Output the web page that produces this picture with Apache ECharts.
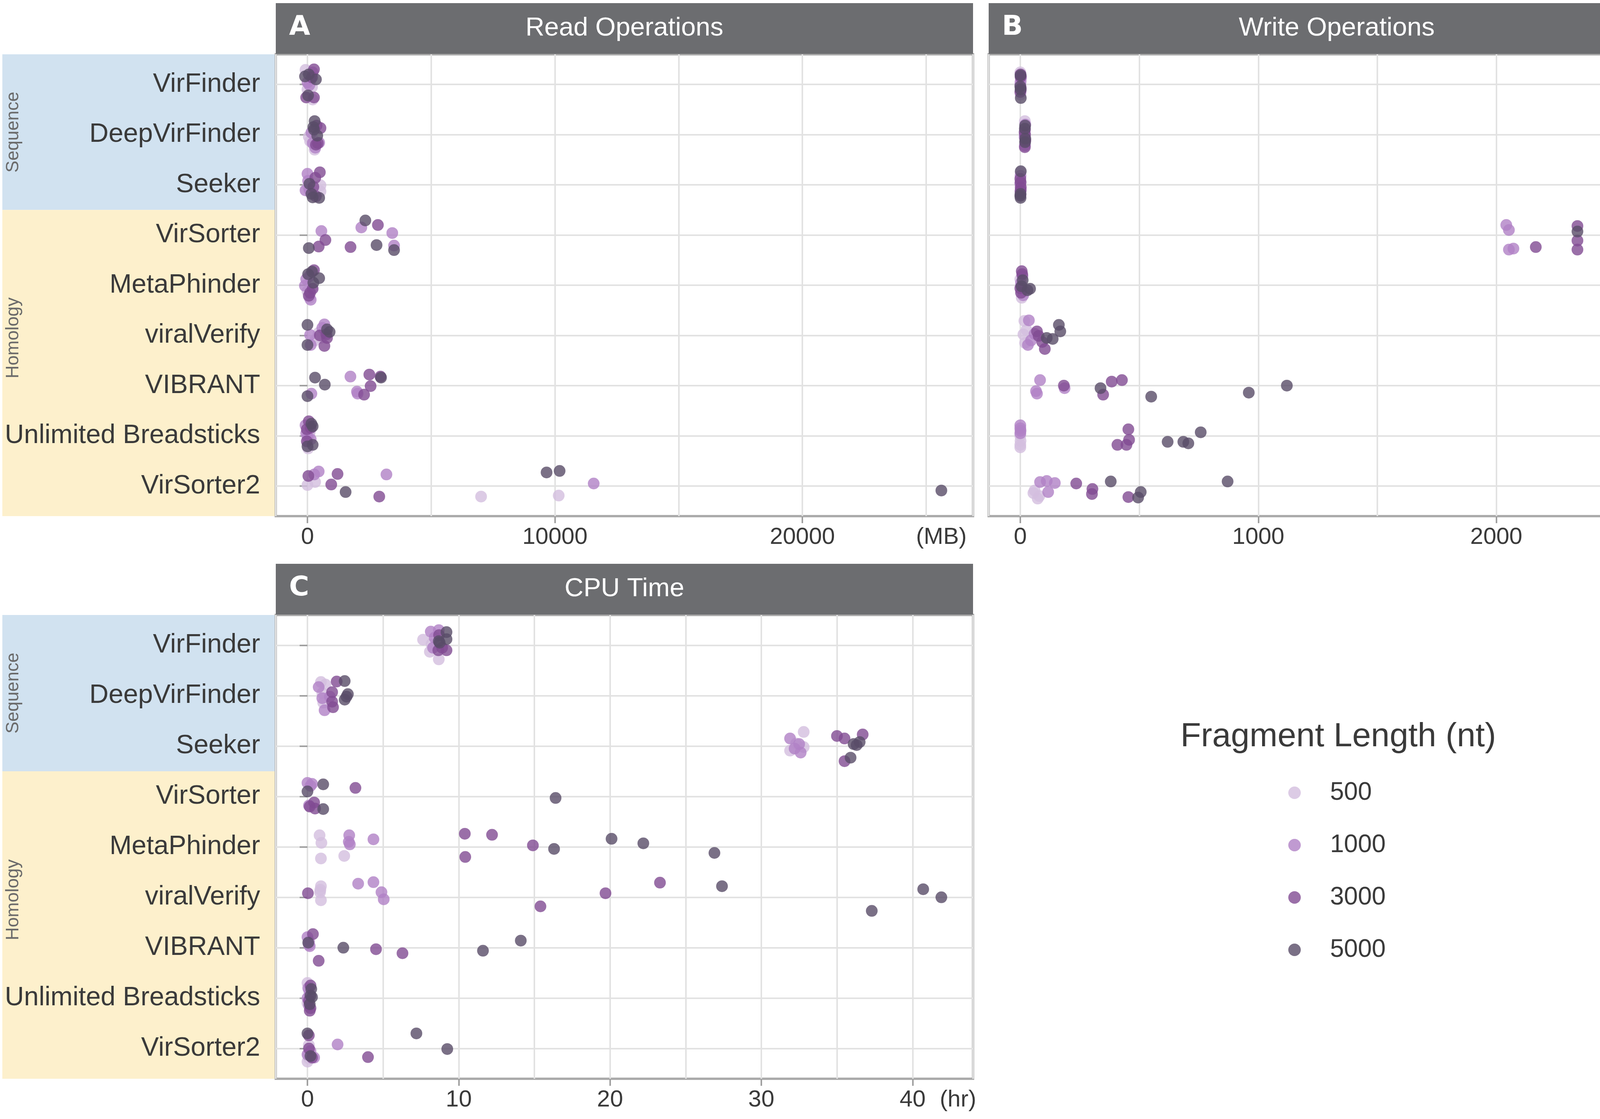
<!DOCTYPE html>
<html><head><meta charset="utf-8">
<script src="https://cdn.jsdelivr.net/npm/echarts@6/dist/echarts.min.js"></script>
<style>html,body{margin:0;padding:0;background:#fff}#c{width:4328px;height:2864px}</style>
</head><body><div id="c"></div>
<script>
// ---------------- data ----------------
const tools = ['VirFinder','DeepVirFinder','Seeker','VirSorter','MetaPhinder','viralVerify','VIBRANT','Unlimited Breadsticks','VirSorter2'];
const groupNames = ['Sequence','Homology'];
const lengths = ['500','1000','3000','5000'];
const colors = ['#d3bede','#b081c5','#814b92','#594c68'];

// each point: [tool index, value, vertical jitter]
const read500 = [
 [0,-79,-0.29],[0,184,0.05],[0,210,0.3],[0,0,0.1],
 [1,53,0.04],[1,210,0.08],[1,289,0.3],[1,105,0.13],
 [2,526,0.01],[2,526,0.13],[2,263,0.1],[2,26,0.03],
 [4,158,-0.02],[4,0,0.12],[4,184,0.05],[4,79,0.25],
 [5,421,0.02],[5,526,0.05],[5,300,0.1],[5,450,-0.05],
 [7,79,-0.04],[7,26,0.25],[7,105,-0.1],[7,0,0.15],
 [8,0,-0.02],[8,308,-0.08],[8,7016,0.21],[8,10153,0.19]];
const read1000 = [
 [0,210,-0.24],[0,79,0.01],[0,0,-0.04],[0,131,-0.1],
 [1,210,0.17],[1,473,0.16],[1,158,-0.04],[1,316,0.26],
 [2,0,-0.22],[2,26,-0.08],[2,-79,0.11],[2,79,0.1],
 [3,562,-0.08],[3,2176,-0.15],[3,3427,-0.04],[3,3499,0.21],
 [4,-53,-0.12],[4,-105,0.01],[4,131,0.29],[4,79,-0.18],
 [5,684,-0.22],[5,105,-0.01],[5,131,0.19],[5,600,-0.15],
 [6,158,0.16],[6,1736,-0.18],[6,2025,0.16],[6,2000,0.12],
 [7,-79,-0.21],[7,0,0.02],[7,131,0.07],[7,-50,-0.05],
 [8,453,-0.29],[8,272,-0.23],[8,3191,-0.23],[8,11567,-0.05]];
const read3000 = [
 [0,263,-0.3],[0,-53,0.26],[0,263,0.26],[0,184,-0.14],
 [1,526,-0.13],[1,368,-0.18],[1,420,0.17],[1,342,0.2],
 [2,500,-0.25],[2,316,-0.14],[2,237,0.04],[2,342,0.23],
 [3,725,0.1],[3,453,0.23],[3,1740,0.24],[3,2846,-0.2],
 [4,263,-0.3],[4,210,0.07],[4,53,0.21],[4,105,0.15],
 [5,763,-0.02],[5,684,0.21],[5,789,0.05],[5,500,0.0],
 [6,2500,-0.22],[6,2551,0.01],[6,2288,0.18],[6,2950,-0.18],
 [7,53,-0.29],[7,-26,-0.13],[7,-26,0.11],[7,131,-0.16],
 [8,36,-0.2],[8,1215,-0.24],[8,961,-0.03],[8,2901,0.21]];
const read5000 = [
 [0,53,-0.2],[0,342,-0.1],[0,-100,-0.16],[0,26,0.22],
 [1,289,-0.27],[1,237,-0.15],[1,263,-0.1],[1,395,0.02],
 [2,79,-0.02],[2,158,0.18],[2,473,0.26],[2,210,0.25],
 [3,54,0.26],[3,2339,-0.29],[3,2792,0.2],[3,3499,0.3],
 [4,184,-0.27],[4,473,-0.14],[4,26,-0.22],[4,237,-0.05],
 [5,0,-0.21],[5,895,-0.07],[5,0,0.19],[5,790,-0.12],
 [6,305,-0.16],[6,700,-0.02],[6,0,0.21],[6,2972,-0.16],
 [7,158,-0.24],[7,0,0.21],[7,210,0.18],[7,210,-0.19],
 [8,1541,0.12],[8,9663,-0.27],[8,10189,-0.3],[8,25617,0.09]];

const write500 = [
 [0,0,-0.24],[0,2,0.05],[0,1,0.2],[0,3,-0.1],
 [1,19,-0.27],[1,21,0.1],[1,18,0.0],[1,20,0.2],
 [2,1,-0.25],[2,2,-0.05],[2,0,0.15],[2,1,0.05],
 [4,4,0.12],[4,0,-0.12],[4,6,0.25],[4,2,0.0],
 [5,17,-0.29],[5,26,-0.11],[5,13,-0.02],[5,20,0.15],
 [7,0,0.0],[7,0,0.23],[7,1,0.1],[7,0,0.18],
 [8,60,0.09],[8,73,0.25],[8,80,0.2],[8,55,0.14]];
const write1000 = [
 [0,1,-0.05],[0,2,0.12],[0,0,0.0],[0,3,-0.15],
 [1,20,-0.1],[1,19,0.22],[1,18,0.05],[1,21,-0.2],
 [2,1,-0.18],[2,2,0.1],[2,0,-0.02],[2,1,0.2],
 [3,2042,-0.2],[3,2053,-0.1],[3,2053,0.29],[3,2072,0.27],
 [4,9,-0.18],[4,17,0.12],[4,3,-0.05],[4,12,0.2],
 [5,36,-0.3],[5,32,0.19],[5,60,-0.03],[5,45,0.1],
 [6,83,-0.11],[6,66,0.11],[6,70,0.16],[6,186,0.05],
 [7,0,-0.21],[7,0,-0.15],[7,1,-0.1],[7,0,-0.05],
 [8,83,-0.08],[8,111,-0.1],[8,145,-0.06],[8,117,0.12]];
const write3000 = [
 [0,1,-0.15],[0,2,0.08],[0,0,0.15],[0,1,-0.2],
 [1,20,0.0],[1,19,0.25],[1,21,0.12],[1,18,-0.05],
 [2,1,-0.05],[2,2,0.05],[2,1,0.12],[2,0,-0.12],
 [3,2341,-0.18],[3,2341,0.11],[3,2166,0.24],[3,2341,0.29],
 [4,6,-0.28],[4,0,0.06],[4,8,-0.22],[4,3,0.15],
 [5,70,-0.08],[5,77,0.01],[5,92,0.13],[5,103,0.27],
 [6,183,0.0],[6,348,0.18],[6,384,-0.08],[6,427,-0.11],
 [7,454,-0.13],[7,457,0.08],[7,408,0.18],[7,446,0.18],
 [8,235,-0.05],[8,303,0.06],[8,301,0.16],[8,454,0.22]];
const write5000 = [
 [0,1,-0.18],[0,0,0.04],[0,2,0.27],[0,1,0.1],
 [1,20,-0.18],[1,19,-0.12],[1,21,0.08],[1,20,0.15],
 [2,1,0.26],[2,0,0.22],[2,2,-0.27],[2,1,0.18],
 [3,2341,-0.07],[3,2644,-0.14],[3,2648,0.23],[3,2659,0.2],
 [4,41,0.07],[4,10,-0.1],[4,5,0.02],[4,30,0.1],
 [5,111,0.05],[5,136,0.07],[5,162,-0.21],[5,168,-0.08],
 [6,337,0.05],[6,550,0.22],[6,960,0.14],[6,1120,0.0],
 [7,619,0.12],[7,685,0.12],[7,706,0.15],[7,758,-0.07],
 [8,380,-0.09],[8,506,0.12],[8,495,0.23],[8,871,-0.09]];

const cpu500 = [
 [0,7.64,-0.11],[0,8.09,0.13],[0,8.68,0.28],[0,8.2,-0.02],
 [1,0.89,-0.27],[1,1.19,-0.22],[1,0.98,-0.05],[1,1.04,0.14],
 [2,32.8,-0.28],[2,32.8,0.02],[2,31.9,0.09],[2,32.3,-0.05],
 [4,0.8,-0.23],[4,0.92,-0.08],[4,0.89,0.23],[4,2.43,0.18],
 [5,0.89,-0.22],[5,0.83,-0.1],[5,0.89,0.06],[5,0.85,-0.15],
 [7,0,-0.3],[7,0,0.1],[7,0.1,-0.15],[7,0.05,0.05],
 [8,0.09,-0.07],[8,0,0.26],[8,0.05,0.1],[8,0.1,0.2]];
const cpu1000 = [
 [0,8.15,-0.27],[0,8.68,-0.3],[0,8.4,-0.15],[0,8.3,0.05],
 [1,0.74,-0.17],[1,0.98,0.05],[1,1.13,0.29],[1,1.48,0.02],
 [2,31.9,-0.15],[2,32.5,-0.04],[2,32.6,0.13],[2,32.2,0.05],
 [3,0,-0.27],[3,0.2,-0.21],[3,0.1,0.18],[3,0.3,-0.25],
 [4,2.76,-0.23],[4,2.73,-0.1],[4,4.36,-0.15],[4,2.8,-0.05],
 [5,3.35,-0.27],[5,4.36,-0.3],[5,4.89,-0.1],[5,5.04,0.04],
 [6,0,-0.21],[6,0.09,-0.06],[6,0.15,-0.03],[6,0.1,-0.12],
 [7,0.05,-0.2],[7,0,0.0],[7,0.1,0.15],[7,0.15,-0.08],
 [8,1.99,-0.08],[8,0.44,0.18],[8,0,0.12],[8,0.2,0.05]];
const cpu3000 = [
 [0,8.65,0.1],[0,9.19,0.1],[0,8.9,0.05],[0,8.7,-0.2],
 [1,1.93,-0.28],[1,1.63,-0.07],[1,1.63,0.12],[1,1.69,0.23],
 [2,35.0,-0.2],[2,35.5,-0.15],[2,36.7,-0.23],[2,35.5,0.3],
 [3,3.17,-0.17],[3,0.15,0.2],[3,0.44,0.12],[3,0.5,0.24],
 [4,10.4,-0.26],[4,12.2,-0.24],[4,14.9,-0.03],[4,10.43,0.2],
 [5,0.03,-0.08],[5,15.4,0.18],[5,19.7,-0.08],[5,23.3,-0.29],
 [6,0.36,-0.27],[6,0.74,0.26],[6,4.53,0.03],[6,6.28,0.11],
 [7,0.2,-0.25],[7,0.1,0.05],[7,0.2,0.2],[7,0.15,0.25],
 [8,0.09,-0.26],[8,4.0,0.17],[8,0.3,0.18],[8,0.1,0.0]];
const cpu5000 = [
 [0,9.19,-0.26],[0,8.68,-0.08],[0,8.74,-0.05],[0,9.19,-0.12],
 [1,2.46,-0.29],[1,2.67,-0.03],[1,2.46,0.08],[1,2.58,0.02],
 [2,36.1,-0.04],[2,36.3,-0.02],[2,35.9,0.23],[2,36.5,-0.08],
 [3,0,-0.1],[3,1.04,-0.24],[3,16.4,0.03],[3,1.04,0.25],
 [4,20.1,-0.16],[4,22.2,-0.07],[4,16.3,0.04],[4,26.9,0.12],
 [5,27.4,-0.22],[5,37.3,0.27],[5,40.7,-0.16],[5,41.9,0.0],
 [6,2.37,0],[6,11.6,0.06],[6,14.1,-0.14],[6,0.05,-0.1],
 [7,0.25,-0.18],[7,0.2,-0.05],[7,0.3,-0.02],[7,0.15,0.12],
 [8,0,-0.3],[8,7.2,-0.3],[8,9.24,0.01],[8,0.2,0.15]];

const readTicks = [0,10000,20000];
const writeTicks = [0,1000,2000];
const cpuTicks = [0,10,20,30,40];
const panelTitles = ['Read Operations','Write Operations','CPU Time'];
const panelLetters = ['A','B','C'];
const unitLabels = ['(MB)','(MB)','(hr)'];
const legendTitle = 'Fragment Length (nt)';

// ---------------- layout ----------------
const FONT = 'Liberation Sans, Arial, Helvetica, sans-serif';
const TXT = '#3a3a3a';
const gridsPx = [
  {left:706, top:139, width:1785, height:1182},
  {left:2531, top:139, width:1782, height:1182},
  {left:706, top:1574, width:1785, height:1187}
];
const panelData = [
  [read500, read1000, read3000, read5000],
  [write500, write1000, write3000, write5000],
  [cpu500, cpu1000, cpu3000, cpu5000]
];
const panelTicks = [readTicks, writeTicks, cpuTicks];
const splitNums = [5, 5, 9];

const grid = [], xAxis = [], yAxis = [], series = [], graphic = [];
panelData.forEach((sets, p) => {
  const g = gridsPx[p];
  grid.push(Object.assign({show:true, borderColor:'#ababab', borderWidth:6, backgroundColor:'#ffffff'}, g));
  let M = 0;
  sets.forEach(s => s.forEach(d => { if (d[1] > M) M = d[1]; }));
  const lo = -0.05 * M, hi = 1.05 * M;
  const unitAt = p === 2 ? 43 : M;
  // gridline axis (data axis)
  xAxis.push({gridIndex:p, type:'value', position:'bottom', min:lo, max:hi, splitNumber:splitNums[p],
    axisLine:{show:false}, axisTick:{show:false}, axisLabel:{show:false},
    splitLine:{show:true, lineStyle:{color:'#e2e2e2', width:4}}});
  // label axis
  const ticks = panelTicks[p];
  xAxis.push({gridIndex:p, type:'value', position:'bottom', min:lo, max:hi,
    axisLine:{show:false},
    axisTick:{show:true, customValues:ticks, length:18, lineStyle:{color:'#a0a0a0', width:4}},
    axisLabel:{show:true, customValues:ticks.concat([unitAt]), margin:24,
      fontSize:60, color:TXT, fontFamily:FONT,
      formatter: v => (Math.abs(v - unitAt) < 1e-9 ? unitLabels[p] : String(v))},
    splitLine:{show:false}});
  const cats = tools.map((t, i) => i + 1);
  yAxis.push({gridIndex:p, type:'value', position:'left', inverse:true, min:0.4, max:9.6, splitNumber:9,
    axisLine:{show:false},
    axisTick:{show:p !== 1, customValues:cats, length:20, lineStyle:{color:'#a0a0a0', width:4}},
    axisLabel:{show:p !== 1, customValues:cats, margin:40, fontSize:68, color:TXT, fontFamily:FONT,
      formatter: v => tools[Math.round(v) - 1]},
    splitLine:{show:true, lineStyle:{color:'#e2e2e2', width:4}}});
  sets.forEach((s, k) => {
    series.push({type:'scatter', name:lengths[k], xAxisIndex:2*p, yAxisIndex:p,
      symbol:'circle', symbolSize:30, z:2 + k,
      itemStyle:{color:colors[k], opacity:0.8},
      emphasis:{disabled:true},
      data:s.map(d => [d[1], d[0] + 1 + d[2]])});
  });
  // strip header
  graphic.push({type:'rect', shape:{x:g.left, y:g.top - 131, width:g.width, height:130},
    style:{fill:'#6c6d70'}, z:10});
  graphic.push({type:'text', x:g.left + g.width/2, y:g.top - 66,
    style:{text:panelTitles[p], fill:'#ffffff', fontSize:67, fontFamily:FONT, align:'center', verticalAlign:'middle'}, z:11});
  graphic.push({type:'text', x:g.left + 34, y:g.top - 68,
    style:{text:panelLetters[p], fill:'#ffffff', fontSize:70, fontWeight:'bold', fontFamily:'DejaVu Sans, sans-serif', align:'left', verticalAlign:'middle'}, z:11});
  // group background behind y labels
  if (p !== 1) {
    const step = g.height / 9.2;
    const yTop = g.top, ySplit = g.top + step * (3.5 - 0.4), yBot = g.top + g.height;
    graphic.push({type:'rect', shape:{x:6, y:yTop, width:g.left - 9, height:ySplit - yTop}, style:{fill:'#d1e2f0'}, z:-10});
    graphic.push({type:'rect', shape:{x:6, y:ySplit, width:g.left - 9, height:yBot - ySplit}, style:{fill:'#fdf0cc'}, z:-10});
    graphic.push({type:'text', x:34, y:(yTop + ySplit)/2, rotation:Math.PI/2,
      style:{text:groupNames[0], fill:'#6a6a6a', fontSize:46, fontFamily:FONT, align:'center', verticalAlign:'middle'}, z:1});
    graphic.push({type:'text', x:34, y:ySplit + step * 2.55, rotation:Math.PI/2,
      style:{text:groupNames[1], fill:'#6a6a6a', fontSize:46, fontFamily:FONT, align:'center', verticalAlign:'middle'}, z:1});
  }
});

graphic.push({type:'text', x:3022, y:1886,
  style:{text:legendTitle, fill:TXT, fontSize:86, fontFamily:FONT, align:'left', verticalAlign:'middle'}});

const option = {
  animation:false,
  backgroundColor:'#ffffff',
  textStyle:{fontFamily:FONT},
  grid, xAxis, yAxis, series, graphic,
  legend:{data:lengths, orient:'vertical', left:3293, top:1991, icon:'circle',
    itemWidth:32, itemHeight:32, itemGap:68, selectedMode:false,
    textStyle:{fontSize:64, color:TXT, fontFamily:FONT, lineHeight:66, padding:[0,0,0,70]}}
};
const chart = echarts.init(document.getElementById('c'), null, {renderer:'canvas'});
chart.setOption(option);
</script></body></html>
